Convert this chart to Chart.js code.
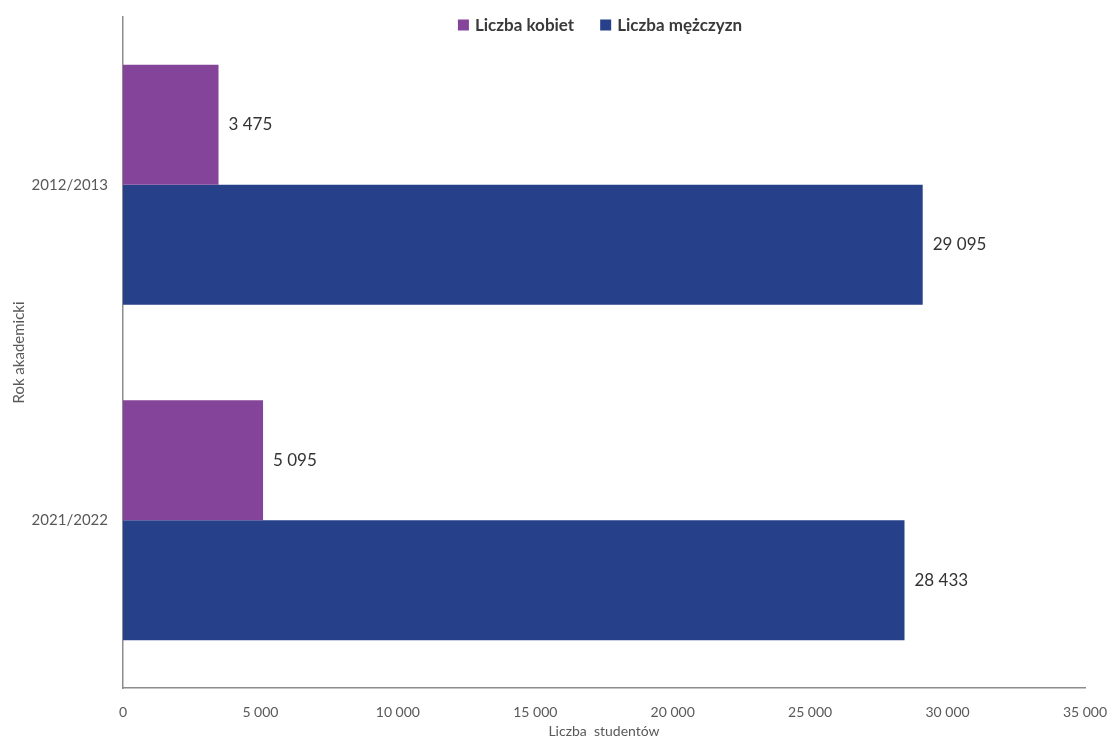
<!DOCTYPE html>
<html>
<head>
<meta charset="utf-8">
<script src="https://cdn.jsdelivr.net/npm/chart.js@4"></script>
<style>
  html, body { margin: 0; padding: 0; background: #fff; }
  #wrap { width: 1109px; height: 740px; }
</style>
</head>
<body>
<div id="wrap"><canvas id="barChart" width="1109" height="740"></canvas></div>
<script>
const years = ["2012/2013", "2021/2022"];
const seriesNames = ["Liczba kobiet", "Liczba mężczyzn"];
const women = [3475, 5095];
const men = [29095, 28433];
const xTicks = [0, 5000, 10000, 15000, 20000, 25000, 30000, 35000];

const colors = ["#84449a", "#26418a"];
const FONT = "Lato, 'Open Sans', sans-serif";

// "29 095" style thousands separator
function fmt(v) {
  return String(v).replace(/\B(?=(\d{3})+(?!\d))/g, " ");
}

const valueLabels = {
  id: "valueLabels",
  afterDatasetsDraw(chart) {
    const ctx = chart.ctx;
    ctx.save();
    ctx.font = "17px " + FONT;
    ctx.fillStyle = "#333333";
    ctx.textAlign = "left";
    ctx.textBaseline = "middle";
    chart.data.datasets.forEach((ds, i) => {
      chart.getDatasetMeta(i).data.forEach((bar, j) => {
        ctx.fillText(fmt(ds.data[j]), bar.x + 10, bar.y);
      });
    });
    ctx.restore();
  },
};

// legend drawn over the top of the plot, centred
const topLegend = {
  id: "topLegend",
  afterDraw(chart) {
    const ctx = chart.ctx;
    const area = chart.chartArea;
    ctx.save();
    ctx.font = "bold 17px " + FONT;
    ctx.textBaseline = "middle";
    const box = 11, gap = 6, spacing = 26;
    const widths = seriesNames.map((n) => box + gap + ctx.measureText(n).width);
    const total = widths.reduce((a, b) => a + b, 0) + spacing * (widths.length - 1);
    let x = (area.left + area.right) / 2 - total / 2 - 4;
    const y = 25;
    seriesNames.forEach((n, i) => {
      ctx.fillStyle = colors[i];
      ctx.fillRect(x, y - box / 2, box, box);
      ctx.fillStyle = "#3a3a3a";
      ctx.fillText(n, x + box + gap, y + 1);
      x += widths[i] + spacing;
    });
    ctx.restore();
  },
};

const ctx = document.getElementById("barChart").getContext("2d");
const chart = new Chart(ctx, {
  type: "bar",
  data: {
    labels: years,
    datasets: [
      {
        label: seriesNames[0],
        data: women,
        backgroundColor: colors[0],
        categoryPercentage: 0.715,
        barPercentage: 1,
      },
      {
        label: seriesNames[1],
        data: men,
        backgroundColor: colors[1],
        categoryPercentage: 0.715,
        barPercentage: 1,
      },
    ],
  },
  options: {
    indexAxis: "y",
    responsive: false,
    animation: false,
    layout: { padding: { top: 17, right: 24, left: 0, bottom: 0 } },
    plugins: {
      legend: { display: false },
      tooltip: { enabled: false },
    },
    scales: {
      x: {
        min: 0,
        max: 35000,
        afterBuildTicks(scale) {
          scale.ticks = xTicks.map((v) => ({ value: v }));
        },
        afterFit(scale) {
          scale.height = 52;
          scale.paddingLeft = 0;
          scale.paddingRight = 0;
        },
        grid: { display: false, drawTicks: false },
        border: { display: true, color: "#8c8c8c", width: 1.5 },
        ticks: {
          padding: 16,
          color: "#595959",
          font: { family: FONT, size: 14 },
          maxRotation: 0,
          callback: (v) => fmt(v),
        },
        title: {
          display: true,
          text: "Liczba  studentów",
          color: "#595959",
          font: { family: FONT, size: 14 },
          padding: { top: 5, bottom: 0 },
        },
      },
      y: {
        afterFit(scale) {
          scale.width = 123;
          scale.paddingTop = 0;
          scale.paddingBottom = 0;
        },
        grid: { display: false, drawTicks: false },
        border: { display: true, color: "#8c8c8c", width: 1.5 },
        ticks: {
          padding: 15,
          color: "#595959",
          font: { family: FONT, size: 15 },
        },
        title: {
          display: true,
          text: "Rok akademicki",
          color: "#595959",
          font: { family: FONT, size: 15 },
          padding: { top: 10, bottom: 0 },
        },
      },
    },
  },
  plugins: [valueLabels, topLegend],
});
</script>
</body>
</html>
